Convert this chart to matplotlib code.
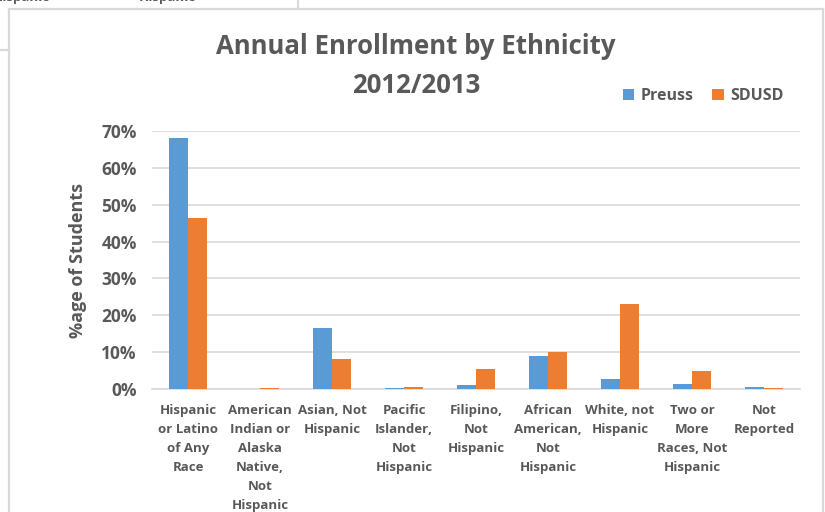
import numpy as np
import matplotlib.pyplot as plt
from matplotlib.lines import Line2D
from matplotlib.ticker import PercentFormatter

# Enrollment share by ethnicity, 2012/2013
categories = ["Hispanic\nor Latino\nof Any\nRace",
              "American\nIndian or\nAlaska\nNative,\nNot\nHispanic",
              "Asian, Not\nHispanic",
              "Pacific\nIslander,\nNot\nHispanic",
              "Filipino,\nNot\nHispanic",
              "African\nAmerican,\nNot\nHispanic",
              "White, not\nHispanic",
              "Two or\nMore\nRaces, Not\nHispanic",
              "Not\nReported"]
preuss = [68.2, 0.0, 16.5, 0.35, 1.2, 8.9, 2.7, 1.3, 0.6]
sdusd = [46.3, 0.4, 8.2, 0.6, 5.3, 10.1, 23.0, 4.8, 0.4]
yticks = [0, 10, 20, 30, 40, 50, 60, 70]

blue = "#5B9BD5"
orange = "#ED7D31"
grey = "#595959"
grid = "#D9D9D9"

plt.rcParams["font.family"] = ["Open Sans", "DejaVu Sans"]

fig = plt.figure(figsize=(8.25, 5.12), dpi=100)
W, H = 825, 512

def fx(px):
    return px / W

def fy(py):
    return 1 - py / H

ax = fig.add_axes([fx(152), fy(389), fx(800) - fx(152), fy(131) - fy(389)])

x = np.arange(len(categories))
bw = 0.257
ax.bar(x - bw / 2, preuss, bw, color=blue, label="Preuss", zorder=3)
ax.bar(x + bw / 2, sdusd, bw, color=orange, label="SDUSD", zorder=3)

ax.set_xlim(-0.5, len(categories) - 0.5)
ax.set_ylim(0, 70)
ax.set_yticks(yticks)
ax.yaxis.set_major_formatter(PercentFormatter(decimals=0))
ax.grid(axis="y", color=grid, linewidth=1.2, zorder=0)
for s in ["top", "right", "left"]:
    ax.spines[s].set_visible(False)
ax.spines["bottom"].set_color(grid)
ax.spines["bottom"].set_linewidth(1.2)
ax.tick_params(axis="both", length=0, colors=grey)
ax.tick_params(axis="y", labelsize=12.5, pad=11)
ax.set_xticks(x)
ax.set_xticklabels(categories, fontsize=9.5, fontweight="bold", color=grey,
                   linespacing=1.59)
ax.tick_params(axis="x", pad=11)
for lbl in ax.get_yticklabels():
    lbl.set_fontweight("bold")

ax.set_ylabel("%age of Students", fontsize=13, fontweight="bold", color=grey)
ax.yaxis.set_label_coords((87 - 152) / (800 - 152), 0.5)

fig.text(fx(416), fy(66), "Annual Enrollment by Ethnicity\n2012/2013",
         ha="center", va="center", fontsize=18.5, fontweight="bold", color=grey,
         linespacing=1.55)

leg = fig.legend(loc="center", bbox_to_anchor=(fx(703), fy(96)), ncol=2,
                 frameon=False, fontsize=11.5, handlelength=0.7, handleheight=0.7,
                 handletextpad=0.4, columnspacing=1.2)
for t in leg.get_texts():
    t.set_color(grey)
    t.set_fontweight("bold")

# chart frame and spreadsheet edges around it
frame = dict(color=grid, linewidth=1.6)
fig.add_artist(Line2D([fx(9), fx(823)], [fy(9), fy(9)], **frame))
fig.add_artist(Line2D([fx(9), fx(9)], [fy(9), fy(512)], **frame))
fig.add_artist(Line2D([fx(823), fx(823)], [fy(9), fy(512)], **frame))
fig.add_artist(Line2D([fx(0), fx(9)], [fy(50), fy(50)], **frame))
fig.add_artist(Line2D([fx(298), fx(298)], [fy(0), fy(9)], **frame))
fig.text(fx(50), fy(-2), "Hispanic", ha="right", va="center", fontsize=9.5,
         fontweight="bold", color=grey)
fig.text(fx(167), fy(-2), "Hispanic", ha="center", va="center", fontsize=9.5,
         fontweight="bold", color=grey)

fig.savefig("out.png", dpi=100)
